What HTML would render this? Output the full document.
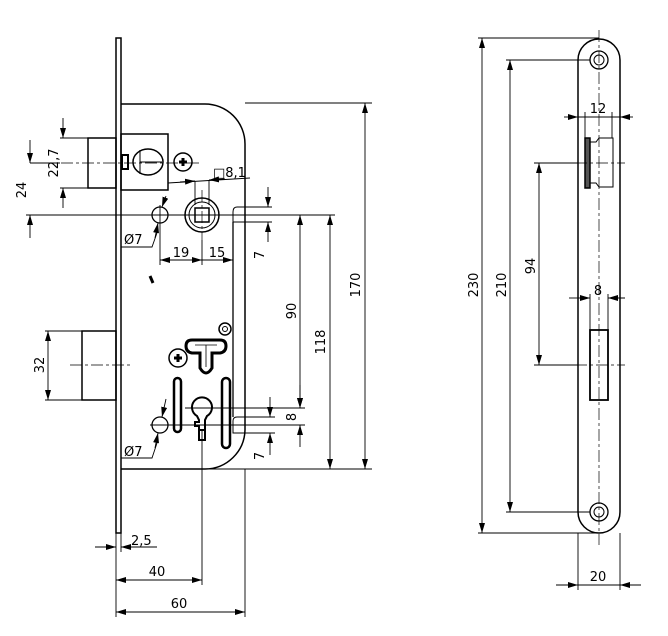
<!DOCTYPE html>
<html><head><meta charset="utf-8"><style>html,body{margin:0;padding:0;background:#fff}svg{display:block}text{font-family:"DejaVu Sans","Liberation Sans",sans-serif;font-size:13px;fill:#000;stroke:none}</style></head><body>
<svg width="668" height="636" viewBox="0 0 668 636" xmlns="http://www.w3.org/2000/svg">
<defs>
<marker id="a" viewBox="0 0 10 6" refX="10" refY="3" markerWidth="10" markerHeight="6" orient="auto-start-reverse" markerUnits="userSpaceOnUse"><path d="M0,0 L10,3 L0,6z" fill="#000"/></marker>
</defs>
<g fill="none" stroke="#000" stroke-width="1">
<rect x="116" y="38" width="5" height="495" stroke-width="1.5"/>
<path d="M121,104 H205 A40,40 0 0 1 245,144 V430 A40,40 0 0 1 205,469 H121" stroke-width="1.5"/>
<line x1="233" y1="222" x2="233" y2="417" stroke-width="1.3"/>
<path d="M245,207 H237 Q233,207 233,212 V222 H245"/>
<path d="M245,417 H237 Q233,417 233,421 V433 H245"/>
<rect x="88" y="138" width="28" height="50" stroke-width="1.5"/>
<rect x="121" y="134" width="47" height="56" stroke-width="1.5"/>
<rect x="122" y="155" width="6" height="14" stroke-width="2"/>
<ellipse cx="148" cy="162" rx="15" ry="13" stroke-width="1.5"/>
<path d="M140,150 V174 M140,162 H162"/>
<circle cx="183" cy="162" r="9" stroke-width="1.5"/>
<path d="M179,162 H187 M183,158 V166" stroke-width="3"/>
<circle cx="202" cy="215" r="17" stroke-width="1.5"/>
<circle cx="202" cy="215" r="13"/>
<rect x="195" y="208" width="14" height="14" stroke-width="1.5"/>
<circle cx="160" cy="215" r="8" stroke-width="1.3"/>
<line x1="150" y1="276" x2="153" y2="283" stroke-width="3"/>
<rect x="82" y="331" width="34" height="69" stroke-width="1.5"/>
<circle cx="225" cy="329" r="6" stroke-width="1.5"/>
<circle cx="225" cy="329" r="2.5"/>
<circle cx="178" cy="358" r="9" stroke-width="1.5"/>
<path d="M174,358 H182 M178,354 V362" stroke-width="3"/>
<path d="M192,340 H220 Q226,340 226,346 Q226,352 220,353 H212 V368 Q206,378 200,368 V353 H192 Q186,352 186,346 Q186,340 192,340z" stroke-width="3"/>
<path d="M195,345 H217 M206,345 V367" stroke-width="0.8"/>
<rect x="174" y="378" width="7" height="54" rx="3.5" stroke-width="2.5"/>
<rect x="222" y="378" width="8" height="70" rx="4" stroke-width="2.5"/>
<path d="M197,416 A10,10 0 1 1 207,416 L205,420 V430 H199 V426 H195 V422 H199 V420 Z" stroke-width="2"/>
<path d="M199,430 V440 H205 V430" stroke-width="2"/>
<circle cx="160" cy="425" r="8" stroke-width="1.3"/>

<!-- right view -->
<path d="M578,60 A21,21 0 0 1 620,60 V512 A21,21 0 0 1 578,512 Z" stroke-width="1.5"/>
<circle cx="599" cy="60" r="9" stroke-width="1.3"/><circle cx="599" cy="60" r="5"/>
<circle cx="599" cy="512" r="9" stroke-width="1.3"/><circle cx="599" cy="512" r="5"/>
<rect x="585" y="138" width="5" height="50" stroke-width="1.5" fill="#555"/>
<path d="M590,142 H596 L599,138 H613 V187 H599 L596,183 H590"/>
<rect x="590" y="330" width="18" height="70" stroke-width="1.8"/>

<g stroke-width="0.7" stroke-dasharray="12,3,3,3">
<line x1="40" y1="163" x2="200" y2="163"/>
<line x1="70" y1="365" x2="130" y2="365"/>
<line x1="202" y1="190" x2="202" y2="240"/>
<line x1="599" y1="30" x2="599" y2="545"/>
<line x1="575" y1="163" x2="625" y2="163"/>
<line x1="575" y1="365" x2="625" y2="365"/>
</g>

<g stroke-width="0.9">
<line x1="60" y1="138" x2="88" y2="138"/><line x1="60" y1="188" x2="88" y2="188"/>
<line x1="63" y1="118" x2="63" y2="138" marker-end="url(#a)"/><line x1="63" y1="208" x2="63" y2="188" marker-end="url(#a)"/>
<line x1="30" y1="163" x2="60" y2="163"/>
<line x1="30" y1="140" x2="30" y2="163" marker-end="url(#a)"/><line x1="30" y1="238" x2="30" y2="215" marker-end="url(#a)"/>
<line x1="26" y1="215" x2="335" y2="215"/>
<line x1="45" y1="331" x2="82" y2="331"/><line x1="45" y1="400" x2="82" y2="400"/>
<line x1="48" y1="331" x2="48" y2="400" marker-start="url(#a)" marker-end="url(#a)"/>
<line x1="245" y1="103" x2="372" y2="103"/><line x1="205" y1="469" x2="372" y2="469"/>
<line x1="365" y1="103" x2="365" y2="469" marker-start="url(#a)" marker-end="url(#a)"/>
<line x1="330" y1="215" x2="330" y2="469" marker-start="url(#a)" marker-end="url(#a)"/>
<line x1="300" y1="215" x2="300" y2="408" marker-start="url(#a)" marker-end="url(#a)"/>
<line x1="245" y1="207" x2="272" y2="207"/><line x1="245" y1="222" x2="272" y2="222"/>
<line x1="268" y1="187" x2="268" y2="207" marker-end="url(#a)"/><line x1="268" y1="242" x2="268" y2="222" marker-end="url(#a)"/>
<line x1="185" y1="408" x2="305" y2="408"/><line x1="150" y1="425" x2="305" y2="425"/>
<line x1="245" y1="417" x2="275" y2="417"/><line x1="245" y1="433" x2="275" y2="433"/>
<line x1="300" y1="385" x2="300" y2="408" marker-end="url(#a)"/><line x1="300" y1="447" x2="300" y2="425" marker-end="url(#a)"/>
<line x1="270" y1="397" x2="270" y2="417" marker-end="url(#a)"/><line x1="270" y1="455" x2="270" y2="433" marker-end="url(#a)"/>
<line x1="160" y1="205" x2="160" y2="265"/><line x1="233" y1="240" x2="233" y2="265"/>
<line x1="160" y1="260" x2="202" y2="260" marker-start="url(#a)" marker-end="url(#a)"/>
<line x1="202" y1="260" x2="233" y2="260" marker-end="url(#a)"/>
<line x1="202" y1="240" x2="202" y2="265"/>
<line x1="168" y1="183" x2="250" y2="178"/>
<line x1="180" y1="182" x2="195" y2="181" marker-end="url(#a)"/><line x1="225" y1="179" x2="209" y2="180" marker-end="url(#a)"/>
<line x1="195" y1="181" x2="195" y2="205"/><line x1="209" y1="180" x2="209" y2="205"/>
<line x1="166" y1="196" x2="162" y2="207" marker-end="url(#a)"/>
<path d="M121,247 H152 L158,230"/><line x1="155" y1="238" x2="158" y2="223" marker-end="url(#a)"/>
<line x1="166" y1="399" x2="162" y2="417" marker-end="url(#a)"/>
<path d="M121,458 H152 L158,440"/><line x1="155" y1="448" x2="158" y2="433" marker-end="url(#a)"/>
<!-- bottom dims -->
<line x1="202" y1="430" x2="202" y2="585"/>
<line x1="245" y1="469" x2="245" y2="617"/>
<line x1="116" y1="533" x2="116" y2="617"/>
<line x1="121" y1="533" x2="121" y2="552"/>
<line x1="95" y1="547" x2="116" y2="547" marker-end="url(#a)"/>
<line x1="157" y1="547" x2="121" y2="547" marker-end="url(#a)"/>
<line x1="116" y1="580" x2="202" y2="580" marker-start="url(#a)" marker-end="url(#a)"/>
<line x1="116" y1="612" x2="245" y2="612" marker-start="url(#a)" marker-end="url(#a)"/>
<!-- right dims -->
<line x1="478" y1="38" x2="599" y2="38"/><line x1="478" y1="533" x2="599" y2="533"/>
<line x1="482" y1="38" x2="482" y2="533" marker-start="url(#a)" marker-end="url(#a)"/>
<line x1="506" y1="60" x2="590" y2="60"/><line x1="506" y1="512" x2="590" y2="512"/>
<line x1="510" y1="60" x2="510" y2="512" marker-start="url(#a)" marker-end="url(#a)"/>
<line x1="534" y1="163" x2="578" y2="163"/><line x1="534" y1="365" x2="578" y2="365"/>
<line x1="539" y1="163" x2="539" y2="365" marker-start="url(#a)" marker-end="url(#a)"/>
<line x1="585" y1="112" x2="585" y2="138"/><line x1="612" y1="112" x2="612" y2="138"/>
<line x1="564" y1="117" x2="578" y2="117" marker-end="url(#a)"/><line x1="633" y1="117" x2="620" y2="117" marker-end="url(#a)"/>
<line x1="578" y1="117" x2="620" y2="117"/>
<line x1="590" y1="294" x2="590" y2="330"/><line x1="608" y1="294" x2="608" y2="330"/>
<line x1="569" y1="298" x2="578" y2="298"/><line x1="578" y1="298" x2="590" y2="298" marker-end="url(#a)"/>
<line x1="625" y1="298" x2="608" y2="298" marker-end="url(#a)"/>
<line x1="578" y1="533" x2="578" y2="590"/><line x1="620" y1="533" x2="620" y2="590"/>
<line x1="556" y1="585" x2="578" y2="585" marker-end="url(#a)"/><line x1="641" y1="585" x2="620" y2="585" marker-end="url(#a)"/>
<line x1="578" y1="585" x2="620" y2="585"/>
</g>
</g>
<g>
<text transform="translate(58,163) rotate(-90)" text-anchor="middle">22,7</text>
<text transform="translate(26,190) rotate(-90)" text-anchor="middle">24</text>
<text transform="translate(44,365) rotate(-90)" text-anchor="middle">32</text>
<text transform="translate(360,285) rotate(-90)" text-anchor="middle">170</text>
<text transform="translate(325,342) rotate(-90)" text-anchor="middle">118</text>
<text transform="translate(296,311) rotate(-90)" text-anchor="middle">90</text>
<text transform="translate(264,255) rotate(-90)" text-anchor="middle">7</text>
<text transform="translate(264,456) rotate(-90)" text-anchor="middle">7</text>
<text transform="translate(296,417) rotate(-90)" text-anchor="middle">8</text>
<text x="181" y="257" text-anchor="middle">19</text>
<text x="217" y="257" text-anchor="middle">15</text>
<text x="213" y="177">□8,1</text>
<text x="124" y="244">Ø7</text>
<text x="124" y="456">Ø7</text>
<text x="131" y="545">2,5</text>
<text x="157" y="576" text-anchor="middle">40</text>
<text x="179" y="608" text-anchor="middle">60</text>
<text transform="translate(478,285) rotate(-90)" text-anchor="middle">230</text>
<text transform="translate(506,285) rotate(-90)" text-anchor="middle">210</text>
<text transform="translate(535,266) rotate(-90)" text-anchor="middle">94</text>
<text x="598" y="113" text-anchor="middle">12</text>
<text x="598" y="295" text-anchor="middle">8</text>
<text x="598" y="581" text-anchor="middle">20</text>
</g>
</svg>
</body></html>
